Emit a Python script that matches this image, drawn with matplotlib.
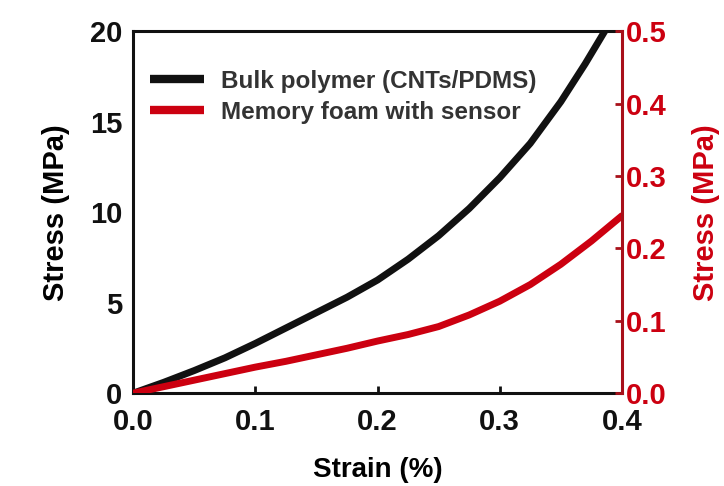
import matplotlib
matplotlib.use('Agg')
import matplotlib.pyplot as plt

# Curvas
strain_bulk = [0.0, 0.025, 0.05, 0.075, 0.10, 0.125, 0.15, 0.175, 0.20, 0.225,
               0.25, 0.275, 0.30, 0.325, 0.35, 0.37, 0.386]
stress_bulk = [0.0, 0.6, 1.25, 1.95, 2.75, 3.6, 4.45, 5.3, 6.25, 7.4,
               8.7, 10.2, 11.9, 13.8, 16.1, 18.2, 20.0]

strain_foam = [0.0, 0.025, 0.05, 0.075, 0.10, 0.125, 0.15, 0.175, 0.20, 0.225,
               0.25, 0.275, 0.30, 0.325, 0.35, 0.375, 0.40]
stress_foam = [0.0, 0.009, 0.018, 0.027, 0.036, 0.044, 0.053, 0.062, 0.072, 0.081,
               0.092, 0.108, 0.127, 0.150, 0.178, 0.210, 0.245]

x_ticks = [0.0, 0.1, 0.2, 0.3, 0.4]
left_ticks = [0, 5, 10, 15, 20]
right_ticks = [0.0, 0.1, 0.2, 0.3, 0.4, 0.5]

black = '#111111'
red = '#cc0010'
dark_red = '#a8101a'

plt.rcParams['font.family'] = ['Liberation Sans', 'DejaVu Sans']
plt.rcParams['font.weight'] = 'bold'

fig = plt.figure(figsize=(7.24, 4.86), dpi=100)
ax = fig.add_axes([0.184, 0.191, 0.675, 0.745])
ax2 = ax.twinx()

l1, = ax.plot(strain_bulk, stress_bulk, color=black, lw=5, solid_capstyle='round',
              label='Bulk polymer (CNTs/PDMS)')
l2, = ax2.plot(strain_foam, stress_foam, color=red, lw=5, solid_capstyle='round',
               label='Memory foam with sensor')

ax.set_xlim(0, 0.4)
ax.set_ylim(0, 20)
ax2.set_ylim(0, 0.5)
ax.set_xticks(x_ticks)
ax.set_xticklabels(['%.1f' % v for v in x_ticks])
ax.set_yticks(left_ticks)
ax2.set_yticks(right_ticks)
ax2.set_yticklabels(['%.1f' % v for v in right_ticks])

for s in ['left', 'bottom', 'top']:
    ax.spines[s].set_linewidth(2.2)
    ax.spines[s].set_color(black)
ax2.spines['right'].set_color(dark_red)
ax2.spines['right'].set_linewidth(2.2)
for s in ['left', 'bottom', 'top']:
    ax2.spines[s].set_visible(False)

ax.tick_params(axis='x', direction='in', length=5, width=2, labelsize=21, pad=11, colors=black)
ax.tick_params(axis='y', direction='in', length=0, labelsize=21, pad=8, colors=black)
ax2.tick_params(axis='y', direction='in', length=5, width=2, labelsize=21, pad=3,
                color=dark_red, labelcolor=red)

ax.set_xlabel('Strain (%)', fontsize=20, fontweight='bold', labelpad=15)
ax.set_ylabel('Stress (MPa)', fontsize=21, fontweight='bold', labelpad=14)
ax2.set_ylabel('Stress (MPa)', fontsize=21, fontweight='bold', color=red, labelpad=18)

leg = ax.legend(handles=[l1, l2], loc='upper left', bbox_to_anchor=(0.035, 0.893),
                frameon=False, fontsize=17.5, handlelength=2.2, handletextpad=0.7,
                labelspacing=0.32, borderaxespad=0, borderpad=0)
for t in leg.get_texts():
    t.set_color('#333333')
    t.set_fontweight('bold')
for h in leg.get_lines():
    h.set_linewidth(6)
    h.set_solid_capstyle('butt')

fig.savefig('out.png', dpi=100)
